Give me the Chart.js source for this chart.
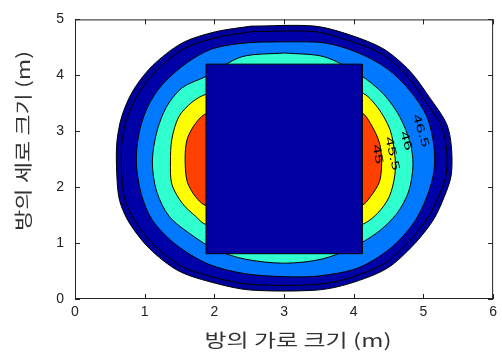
<!DOCTYPE html>
<html>
<head>
<meta charset="utf-8">
<script src="https://cdn.jsdelivr.net/npm/chart.js@4"></script>
<style>
  html, body { margin: 0; padding: 0; background: #fff; }
  #wrap { width: 502px; height: 353px; position: relative; }
</style>
</head>
<body>
<div id="wrap"><canvas id="c"></canvas></div>
<script>
// tick values
const xTicks = [0, 1, 2, 3, 4, 5, 6];
const yTicks = [0, 1, 2, 3, 4, 5];

// contour outlines (m)
const outerX = [2.53, 3.44, 3.95, 4.43, 4.81, 5.09, 5.33, 5.40, 5.40, 5.30, 5.14, 4.86, 4.48, 3.95, 3.48, 2.52, 2.02, 1.49, 1.07, 0.78, 0.64, 0.60, 0.60, 0.67, 0.83, 1.11, 1.54, 2.02];
const outerY = [4.88, 4.88, 4.72, 4.47, 4.07, 3.60, 3.14, 2.74, 2.22, 1.83, 1.41, 0.97, 0.55, 0.28, 0.16, 0.16, 0.28, 0.50, 0.90, 1.36, 1.76, 2.22, 2.79, 3.26, 3.72, 4.17, 4.58, 4.78];

const innerX = [2.53, 3.44, 3.93, 4.40, 4.76, 5.03, 5.26, 5.33, 5.33, 5.23, 5.07, 4.80, 4.43, 3.92, 3.46, 2.54, 2.05, 1.54, 1.13, 0.85, 0.71, 0.67, 0.67, 0.74, 0.90, 1.17, 1.59, 2.05];
const innerY = [4.78, 4.78, 4.62, 4.38, 3.99, 3.53, 3.08, 2.70, 2.25, 1.87, 1.47, 1.04, 0.63, 0.37, 0.26, 0.26, 0.37, 0.58, 0.97, 1.42, 1.81, 2.25, 2.76, 3.21, 3.65, 4.09, 4.49, 4.68];

const blueX = [3.01, 3.58, 4.05, 4.48, 4.81, 5.05, 5.15, 5.15, 5.05, 4.86, 4.52, 4.05, 3.48, 3.01, 2.45, 1.92, 1.45, 1.11, 0.95, 0.88, 0.92, 1.04, 1.25, 1.59, 1.96, 2.45];
const blueY = [4.60, 4.58, 4.41, 4.12, 3.72, 3.26, 2.74, 2.28, 1.83, 1.36, 0.90, 0.55, 0.41, 0.40, 0.45, 0.62, 0.97, 1.41, 1.88, 2.45, 2.97, 3.43, 3.83, 4.21, 4.47, 4.58];

const cyanX = [3.01, 3.58, 4.10, 4.43, 4.66, 4.81, 4.85, 4.79, 4.62, 4.34, 3.95, 3.53, 3.01, 2.45, 2.02, 1.68, 1.35, 1.17, 1.11, 1.17, 1.31, 1.54, 1.88, 2.39];
const cyanY = [4.40, 4.33, 4.00, 3.66, 3.26, 2.79, 2.40, 1.93, 1.53, 1.19, 0.90, 0.71, 0.64, 0.71, 0.88, 1.14, 1.48, 1.93, 2.45, 2.97, 3.43, 3.78, 3.98, 4.33];

const yellowX = [3.00, 4.11, 4.34, 4.52, 4.59, 4.59, 4.51, 4.34, 4.11, 3.00, 1.88, 1.73, 1.54, 1.39, 1.37, 1.39, 1.49, 1.68, 1.88];
const yellowY = [3.95, 3.69, 3.43, 3.03, 2.57, 2.22, 1.83, 1.53, 1.33, 1.05, 1.33, 1.48, 1.71, 2.05, 2.45, 2.86, 3.26, 3.52, 3.66];

const redX = [3.00, 4.11, 4.24, 4.37, 4.40, 4.37, 4.24, 4.11, 3.00, 1.88, 1.73, 1.61, 1.58, 1.61, 1.73, 1.88];
const redY = [3.60, 3.33, 3.14, 2.79, 2.45, 2.10, 1.83, 1.67, 1.40, 1.67, 1.83, 2.10, 2.52, 2.86, 3.14, 3.31];

// the block in the middle
const rectX = [1.88, 4.12, 4.12, 1.88];
const rectY = [4.20, 4.20, 0.81, 0.81];

// contour labels
const labelText = ["45", "45.5", "46", "46.5"];
const labelX = [4.34, 4.55, 4.75, 4.96];
const labelY = [2.59, 2.60, 2.83, 3.01];
const labelAngle = [80, 77, 73, 73];

function poly(xs, ys) {
  const pts = xs.map((x, i) => ({ x: x, y: ys[i] }));
  pts.push({ x: xs[0], y: ys[0] });
  return pts;
}

function region(xs, ys, color, order, tension) {
  return {
    data: poly(xs, ys),
    showLine: true,
    fill: "shape",
    backgroundColor: color,
    borderColor: "#000",
    borderWidth: 1,
    borderJoinStyle: "round",
    pointRadius: 0,
    tension: tension,
    order: order,
  };
}

const TITLE_FONT = '18px "Noto Sans CJK KR", sans-serif';

function drawTitle(ctx, text, cx, cy, width, rot) {
  ctx.save();
  ctx.font = TITLE_FONT;
  ctx.fillStyle = "#333";
  ctx.textAlign = "center";
  ctx.textBaseline = "middle";
  const w = ctx.measureText(text).width;
  ctx.translate(cx, cy);
  ctx.rotate(rot);
  ctx.scale(width / w, 1);
  ctx.fillText(text, 0, 0);
  ctx.restore();
}

const decor = {
  id: "decor",
  afterDatasetsDraw(chart) {
    const { ctx, chartArea: a, scales } = chart;
    const sx = scales.x, sy = scales.y;

    // contour labels
    ctx.save();
    ctx.beginPath();
    ctx.rect(a.left, a.top, a.right - a.left, a.bottom - a.top);
    ctx.clip();
    ctx.fillStyle = "#000";
    ctx.font = '16px "Liberation Sans", Arial, sans-serif';
    ctx.textAlign = "center";
    ctx.textBaseline = "middle";
    labelText.forEach((t, i) => {
      ctx.save();
      ctx.translate(sx.getPixelForValue(labelX[i]), sy.getPixelForValue(labelY[i]));
      ctx.rotate((labelAngle[i] * Math.PI) / 180);
      ctx.scale(1.1, 0.7);
      ctx.fillText(t, 0, 0);
      ctx.restore();
    });
    ctx.restore();

    // box and inward ticks on all four sides
    ctx.save();
    ctx.strokeStyle = "#222";
    ctx.lineWidth = 1;
    ctx.strokeRect(a.left + 0.5, a.top + 0.5, a.right - a.left - 1, a.bottom - a.top - 1);
    ctx.beginPath();
    xTicks.forEach((v) => {
      const px = Math.round(sx.getPixelForValue(v)) + 0.5;
      ctx.moveTo(px, a.bottom);
      ctx.lineTo(px, a.bottom - 5);
      ctx.moveTo(px, a.top);
      ctx.lineTo(px, a.top + 5);
    });
    yTicks.forEach((v) => {
      const py = Math.round(sy.getPixelForValue(v)) + 0.5;
      ctx.moveTo(a.left, py);
      ctx.lineTo(a.left + 5, py);
      ctx.moveTo(a.right, py);
      ctx.lineTo(a.right - 5, py);
    });
    ctx.stroke();
    ctx.restore();

    drawTitle(ctx, "방의 가로 크기 (m)", 298, 340, 187, 0);
    drawTitle(ctx, "방의 세로 크기 (m)", 23, 141, 180, -Math.PI / 2);
  },
};

new Chart(document.getElementById("c"), {
  type: "scatter",
  data: {
    datasets: [
      region(rectX, rectY, "#0000A3", 0, 0),
      region(redX, redY, "#FF4000", 1, 0.3),
      region(yellowX, yellowY, "#FFFF00", 2, 0.3),
      region(cyanX, cyanY, "#30FFD0", 3, 0.3),
      region(blueX, blueY, "#0078FF", 4, 0.3),
      region(innerX, innerY, "#0000A8", 5, 0.3),
      region(outerX, outerY, "#00009C", 6, 0.3),
    ],
  },
  options: {
    responsive: true,
    maintainAspectRatio: false,
    animation: false,
    layout: { padding: { left: 0, right: 5, top: 9, bottom: 0 } },
    plugins: {
      legend: { display: false },
      tooltip: { enabled: false },
    },
    scales: {
      x: {
        type: "linear",
        min: 0,
        max: 6,
        afterBuildTicks: (s) => { s.ticks = xTicks.map((v) => ({ value: v })); },
        afterFit: (s) => { s.height = 54; },
        grid: { display: false, drawTicks: false },
        border: { display: false },
        ticks: { padding: 5, color: "#222", font: { family: '"Liberation Sans", Arial, sans-serif', size: 14 } },
      },
      y: {
        type: "linear",
        min: 0,
        max: 5,
        afterBuildTicks: (s) => { s.ticks = yTicks.map((v) => ({ value: v })); },
        afterFit: (s) => { s.width = 75; },
        grid: { display: false, drawTicks: false },
        border: { display: false },
        ticks: { padding: 11, color: "#222", font: { family: '"Liberation Sans", Arial, sans-serif', size: 14 } },
      },
    },
  },
  plugins: [decor],
});
</script>
</body>
</html>
